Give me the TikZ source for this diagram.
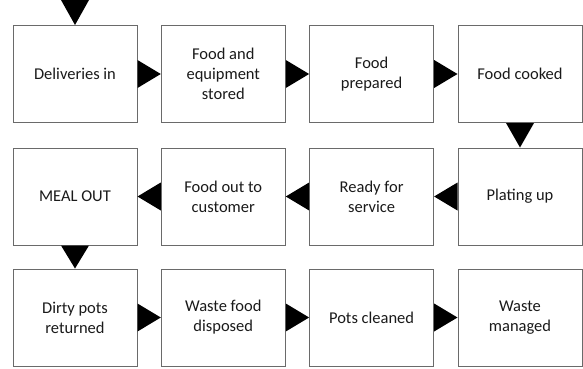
\documentclass[tikz,border=0pt]{standalone}
\usepackage{fontspec}
\setmainfont{Carlito}
\definecolor{boxline}{HTML}{6A6A6A}
\definecolor{boxtext}{HTML}{1A1A1A}
\tikzset{
  stage/.style={draw=boxline, line width=1pt, fill=white, minimum width=124pt,
    minimum height=97pt, inner sep=0pt, align=center, text=boxtext,
    font=\fontsize{16.5}{20}\selectfont},
  flowtip/.style={fill=black, draw=none}
}
\begin{document}
\begin{tikzpicture}[x=1pt, y=1pt]
\useasboundingbox (0,0) rectangle (583,368);
\fill[white] (0,0) rectangle (583,368);

% row 1
\node[stage] (del)  at (75,294)    {Deliveries in};
\node[stage] (store) at (223.3,294) {Food and\\equipment\\stored};
\node[stage] (prep) at (371.6,294) {Food\\prepared};
\node[stage] (cook) at (520,294)   {Food cooked};
% row 2
\node[stage] (meal)  at (75,171.5)    {MEAL OUT};
\node[stage] (cust)  at (223.3,171.5) {Food out to\\customer};
\node[stage] (ready) at (371.6,171.5) {Ready for\\service};
\node[stage] (plate) at (520,171.5)   {Plating up};
% row 3
\node[stage] (dirty) at (75,50.5)    {Dirty pots\\returned};
\node[stage] (waste) at (223.3,50.5) {Waste food\\disposed};
\node[stage] (pots)  at (371.6,50.5) {Pots cleaned};
\node[stage] (manage) at (520,50.5)  {Waste\\managed};

\coordinate (start) at (75,368);

% entry arrow
\fill[flowtip] ([xshift=-14pt]start) -- (del.north) -- ([xshift=14pt]start) -- cycle;

% rightward arrows
\foreach \a/\b in {del/store, store/prep, prep/cook, dirty/waste, waste/pots, pots/manage}
  \fill[flowtip] ([yshift=14pt]\a.east) -- (\b.west) -- ([yshift=-14pt]\a.east) -- cycle;

% leftward arrows
\foreach \a/\b in {plate/ready, ready/cust, cust/meal}
  \fill[flowtip] ([yshift=14pt]\a.west) -- (\b.east) -- ([yshift=-14pt]\a.west) -- cycle;

% downward arrows
\foreach \a/\b in {cook/plate, meal/dirty}
  \fill[flowtip] ([xshift=-14pt]\a.south) -- (\b.north) -- ([xshift=14pt]\a.south) -- cycle;
\end{tikzpicture}
\end{document}
